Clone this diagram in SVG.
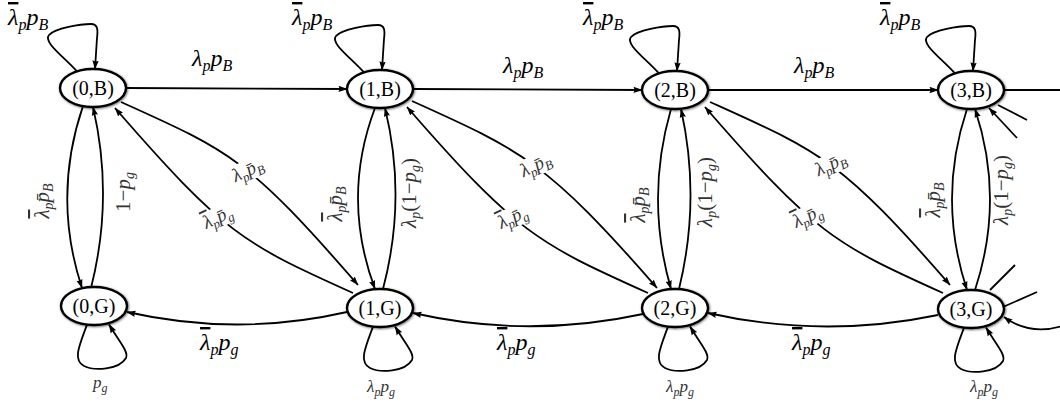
<svg xmlns="http://www.w3.org/2000/svg" width="1060" height="407" viewBox="0 0 1060 407">
<defs>
<marker id="ah" viewBox="0 0 10 8" refX="9.5" refY="4" markerWidth="9" markerHeight="7.2" orient="auto" markerUnits="userSpaceOnUse"><path d="M0,0.5 L10,4 L0,7.5 Q2,4 0,0.5 z" fill="#000"/></marker>
<filter id="sh" x="-20%" y="-30%" width="140%" height="160%"><feDropShadow dx="0.8" dy="0.8" stdDeviation="1.3" flood-color="#000" flood-opacity="0.6"/></filter>
</defs>
<style>
.n{fill:#fff;stroke:#000;stroke-width:2.4;filter:url(#sh)}
.nt{font-family:"Liberation Serif",serif;font-size:20px;text-anchor:middle;fill:#000}
.e{fill:none;stroke:#000;stroke-width:1.8}
.a{marker-end:url(#ah)}
.L{font-family:"Liberation Serif",serif;font-style:italic;font-size:24px;fill:#000}
.L .s{font-size:16px}
.V{font-family:"Liberation Serif",serif;font-style:italic;font-size:21px;fill:#333;text-anchor:middle}
.V .s{font-size:14px}
.S{font-family:"Liberation Serif",serif;font-style:italic;font-size:17px;fill:#333}
.S .s{font-size:12px}
.D{font-family:"Liberation Serif",serif;font-style:italic;font-size:19px;fill:#333;text-anchor:middle}
.D .s{font-size:13px}
.ol{text-decoration:overline}
.u{font-style:normal}
.bg{fill:#fff}
</style>
<rect width="1060" height="407" fill="#fff"/>
<g id="connectors">
<path class="e a" transform="translate(93,88)" d="M-16,-16.6 C-30,-32 -50,-46 -44,-53 C-38,-60 -12,-64 -2,-64 C5,-64 5,-58 4,-50 L2,-19"/>
<path class="e a" transform="translate(380,89)" d="M-16,-16.6 C-30,-32 -50,-46 -44,-53 C-38,-60 -12,-64 -2,-64 C5,-64 5,-58 4,-50 L2,-19"/>
<path class="e a" transform="translate(675,90)" d="M-16,-16.6 C-30,-32 -50,-46 -44,-53 C-38,-60 -12,-64 -2,-64 C5,-64 5,-58 4,-50 L2,-19"/>
<path class="e a" transform="translate(971,90)" d="M-16,-16.6 C-30,-32 -50,-46 -44,-53 C-38,-60 -12,-64 -2,-64 C5,-64 5,-58 4,-50 L2,-19"/>
<path class="e a" transform="translate(94,306)" d="M-7,18.6 C-14,38 -22,54 -10,60 C0,65 25,64 32,52 C35,46 25,35 15,18.5"/>
<path class="e a" transform="translate(380,308)" d="M-7,18.6 C-14,38 -22,54 -10,60 C0,65 25,64 32,52 C35,46 25,35 15,18.5"/>
<path class="e a" transform="translate(675,308)" d="M-7,18.6 C-14,38 -22,54 -10,60 C0,65 25,64 32,52 C35,46 25,35 15,18.5"/>
<path class="e a" transform="translate(971,309)" d="M-7,18.6 C-14,38 -22,54 -10,60 C0,65 25,64 32,52 C35,46 25,35 15,18.5"/>
<path class="e a" d="M126,88 L347,89"/>
<path class="e a" d="M413,89 L642,90"/>
<path class="e a" d="M708,90 L938,90"/>
<path class="e" d="M1004,90 L1060,90"/>
<path class="e a" d="M347,312 Q237,337 127,312"/>
<path class="e a" d="M643,314 Q528,339 413,313"/>
<path class="e a" d="M938,315 Q823,339 708,313"/>
<path class="e a" d="M1062,326 Q1030,336 1004,317"/>
<path class="e a" d="M83,106 Q52,197 82,288"/>
<path class="e a" d="M91,288 Q114,197 93,107"/>
<path class="e a" d="M375,108 Q341,198 375,289"/>
<path class="e a" d="M383,289 Q407,198 385,108"/>
<path class="e a" d="M671,109 Q645,199 671,289"/>
<path class="e a" d="M679,289 Q701,199 681,109"/>
<path class="e a" d="M967,109 Q937,199 967,290"/>
<path class="e a" d="M975,290 Q1005,199 975,109"/>
<path class="e a" d="M121,102 C231,151.5 248,158.5 358,285"/>
<path class="e a" d="M353,293 C243,243.5 225,234.5 115,108"/>
<path class="e a" d="M412,101 C522,150.5 547,161.5 657,288"/>
<path class="e a" d="M648,293 C538,243.5 517,233.5 407,107"/>
<path class="e a" d="M710,102 C820,151.5 840,158.5 950,285"/>
<path class="e a" d="M943,293 C833,243.5 815,233.5 705,107"/>
<path class="e" d="M998,105 L1027,120"/>
<path class="e a" d="M1017,138 L989,108"/>
<path class="e" d="M990,290 L1015,265"/>
<path class="e" d="M1003,307 L1037,292"/>
</g>
<g id="labels">
<text class="L" x="8" y="25"><tspan class="ol">λ</tspan><tspan class="s" dy="5">p</tspan><tspan dy="-5">p</tspan><tspan class="s" dy="5">B</tspan></text>
<text class="L" x="292" y="25"><tspan class="ol">λ</tspan><tspan class="s" dy="5">p</tspan><tspan dy="-5">p</tspan><tspan class="s" dy="5">B</tspan></text>
<text class="L" x="583" y="25"><tspan class="ol">λ</tspan><tspan class="s" dy="5">p</tspan><tspan dy="-5">p</tspan><tspan class="s" dy="5">B</tspan></text>
<text class="L" x="880" y="25"><tspan class="ol">λ</tspan><tspan class="s" dy="5">p</tspan><tspan dy="-5">p</tspan><tspan class="s" dy="5">B</tspan></text>
<text class="L" x="192" y="66">λ<tspan class="s" dy="5">p</tspan><tspan dy="-5">p</tspan><tspan class="s" dy="5">B</tspan></text>
<text class="L" x="503" y="73">λ<tspan class="s" dy="5">p</tspan><tspan dy="-5">p</tspan><tspan class="s" dy="5">B</tspan></text>
<text class="L" x="794" y="73">λ<tspan class="s" dy="5">p</tspan><tspan dy="-5">p</tspan><tspan class="s" dy="5">B</tspan></text>
<text class="L" x="200" y="350"><tspan class="ol">λ</tspan><tspan class="s" dy="5">p</tspan><tspan dy="-5">p</tspan><tspan class="s" dy="5">g</tspan></text>
<text class="L" x="497" y="350"><tspan class="ol">λ</tspan><tspan class="s" dy="5">p</tspan><tspan dy="-5">p</tspan><tspan class="s" dy="5">g</tspan></text>
<text class="L" x="792" y="350"><tspan class="ol">λ</tspan><tspan class="s" dy="5">p</tspan><tspan dy="-5">p</tspan><tspan class="s" dy="5">g</tspan></text>
<text class="S" x="93" y="388">p<tspan class="s" dy="4">g</tspan></text>
<text class="S" x="367" y="392">λ<tspan class="s" dy="4">p</tspan><tspan dy="-4">p</tspan><tspan class="s" dy="4">g</tspan></text>
<text class="S" x="666" y="392">λ<tspan class="s" dy="4">p</tspan><tspan dy="-4">p</tspan><tspan class="s" dy="4">g</tspan></text>
<text class="S" x="970" y="392">λ<tspan class="s" dy="4">p</tspan><tspan dy="-4">p</tspan><tspan class="s" dy="4">g</tspan></text>
<text class="V" transform="translate(42,201) rotate(-90)" y="7"><tspan class="ol">λ</tspan><tspan class="s" dy="4">p</tspan><tspan dy="-4">p̄</tspan><tspan class="s" dy="4">B</tspan></text>
<text class="V" transform="translate(123,192) rotate(-90)" y="7"><tspan class="u">1−</tspan>p<tspan class="s" dy="4">g</tspan></text>
<text class="V" transform="translate(335,204) rotate(-90)" y="7"><tspan class="ol">λ</tspan><tspan class="s" dy="4">p</tspan><tspan dy="-4">p̄</tspan><tspan class="s" dy="4">B</tspan></text>
<text class="V" transform="translate(409,193) rotate(-90)" y="7">λ<tspan class="s" dy="4">p</tspan><tspan class="u" dy="-4">(1−</tspan>p<tspan class="s" dy="4">g</tspan><tspan class="u" dy="-4">)</tspan></text>
<text class="V" transform="translate(638,205) rotate(-90)" y="7"><tspan class="ol">λ</tspan><tspan class="s" dy="4">p</tspan><tspan dy="-4">p̄</tspan><tspan class="s" dy="4">B</tspan></text>
<text class="V" transform="translate(705,192) rotate(-90)" y="7">λ<tspan class="s" dy="4">p</tspan><tspan class="u" dy="-4">(1−</tspan>p<tspan class="s" dy="4">g</tspan><tspan class="u" dy="-4">)</tspan></text>
<text class="V" transform="translate(933,200) rotate(-90)" y="7"><tspan class="ol">λ</tspan><tspan class="s" dy="4">p</tspan><tspan dy="-4">p̄</tspan><tspan class="s" dy="4">B</tspan></text>
<text class="V" transform="translate(1001,190) rotate(-90)" y="7">λ<tspan class="s" dy="4">p</tspan><tspan class="u" dy="-4">(1−</tspan>p<tspan class="s" dy="4">g</tspan><tspan class="u" dy="-4">)</tspan></text>
<g transform="translate(248,171) rotate(-25)"><rect class="bg" x="-20" y="-11" width="40" height="21"/><text class="D" y="5">λ<tspan class="s" dy="4">p</tspan><tspan dy="-4">p̄</tspan><tspan class="s" dy="4">B</tspan></text></g>
<g transform="translate(218,218) rotate(-25)"><rect class="bg" x="-20" y="-11" width="40" height="21"/><text class="D" y="5"><tspan class="ol">λ</tspan><tspan class="s" dy="4">p</tspan><tspan dy="-4">p̄</tspan><tspan class="s" dy="4">g</tspan></text></g>
<g transform="translate(536,166) rotate(-25)"><rect class="bg" x="-20" y="-11" width="40" height="21"/><text class="D" y="5">λ<tspan class="s" dy="4">p</tspan><tspan dy="-4">p̄</tspan><tspan class="s" dy="4">B</tspan></text></g>
<g transform="translate(513,218) rotate(-25)"><rect class="bg" x="-20" y="-11" width="40" height="21"/><text class="D" y="5"><tspan class="ol">λ</tspan><tspan class="s" dy="4">p</tspan><tspan dy="-4">p̄</tspan><tspan class="s" dy="4">g</tspan></text></g>
<g transform="translate(831,165) rotate(-25)"><rect class="bg" x="-20" y="-11" width="40" height="21"/><text class="D" y="5">λ<tspan class="s" dy="4">p</tspan><tspan dy="-4">p̄</tspan><tspan class="s" dy="4">B</tspan></text></g>
<g transform="translate(808,217) rotate(-25)"><rect class="bg" x="-20" y="-11" width="40" height="21"/><text class="D" y="5"><tspan class="ol">λ</tspan><tspan class="s" dy="4">p</tspan><tspan dy="-4">p̄</tspan><tspan class="s" dy="4">g</tspan></text></g>
</g>
<g id="n0B"><ellipse class="n" cx="93" cy="88" rx="33" ry="19"/><text class="nt" x="93" y="95">(0,B)</text></g>
<g id="n1B"><ellipse class="n" cx="380" cy="89" rx="33" ry="19"/><text class="nt" x="380" y="96">(1,B)</text></g>
<g id="n2B"><ellipse class="n" cx="675" cy="90" rx="33" ry="19"/><text class="nt" x="675" y="97">(2,B)</text></g>
<g id="n3B"><ellipse class="n" cx="971" cy="90" rx="33" ry="19"/><text class="nt" x="971" y="97">(3,B)</text></g>
<g id="n0G"><ellipse class="n" cx="94" cy="306" rx="33" ry="19"/><text class="nt" x="94" y="313">(0,G)</text></g>
<g id="n1G"><ellipse class="n" cx="380" cy="308" rx="33" ry="19"/><text class="nt" x="380" y="315">(1,G)</text></g>
<g id="n2G"><ellipse class="n" cx="675" cy="308" rx="33" ry="19"/><text class="nt" x="675" y="315">(2,G)</text></g>
<g id="n3G"><ellipse class="n" cx="971" cy="309" rx="33" ry="19"/><text class="nt" x="971" y="316">(3,G)</text></g>
</svg>
